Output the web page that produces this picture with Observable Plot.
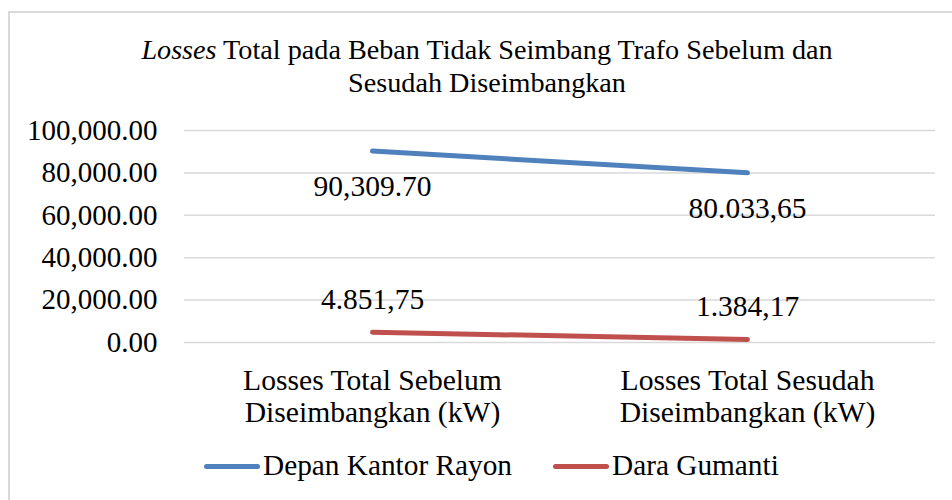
<!DOCTYPE html>
<html>
<head>
<meta charset="utf-8">
<script src="https://cdn.jsdelivr.net/npm/d3@7"></script>
<script src="https://cdn.jsdelivr.net/npm/@observablehq/plot@0.6"></script>
<style>
  html, body { margin: 0; padding: 0; background: #fff; }
  body { width: 952px; height: 500px; position: relative; overflow: hidden; color: #000; }
  .serif { font-family: 'Liberation Serif', 'Times New Roman', Times, serif; }
  #frame { position: absolute; left: 8px; top: 11px; width: 960px; height: 500px; border: 2px solid #d9d9d9; box-sizing: border-box; }
  #title { position: absolute; left: 0; width: 974px; top: 33px; text-align: center; font-size: 28.2px; line-height: 33px; }
  #chart { position: absolute; left: 0; top: 100px; }
  #legend { position: absolute; top: 448px; left: 0; width: 952px; font-size: 29.3px; line-height: 34px; }
  .item { position: absolute; top: 0; white-space: nowrap; }
  .sw { display: inline-block; width: 56px; height: 5px; border-radius: 3px; vertical-align: middle; margin-right: 3px; position: relative; top: -2px; }
  #chart text { font-family: 'Liberation Serif', 'Times New Roman', Times, serif; }
</style>
</head>
<body>
<div id="frame"></div>
<div id="title" class="serif"><i>Losses</i> Total pada Beban Tidak Seimbang Trafo Sebelum dan<br>Sesudah Diseimbangkan</div>
<div id="chart"></div>
<div id="legend" class="serif"></div>
<script>
const categories = ["Losses Total Sebelum\nDiseimbangkan (kW)", "Losses Total Sesudah\nDiseimbangkan (kW)"];
const seriesNames = ["Depan Kantor Rayon", "Dara Gumanti"];
const seriesColors = ["#4F81BD", "#C0504D"];
const depanKantorRayon = [90309.70, 80033.65];
const daraGumanti = [4851.75, 1384.17];
const depanLabels = ["90,309.70", "80.033,65"];
const daraLabels = ["4.851,75", "1.384,17"];
const yTicks = [0, 20000, 40000, 60000, 80000, 100000];

const data = [];
categories.forEach((c, i) => {
  data.push({cat: c, series: seriesNames[0], value: depanKantorRayon[i], label: depanLabels[i]});
  data.push({cat: c, series: seriesNames[1], value: daraGumanti[i], label: daraLabels[i]});
});
const blue = data.filter(d => d.series === seriesNames[0]);
const red = data.filter(d => d.series === seriesNames[1]);

const chart = Plot.plot({
  width: 952,
  height: 330,
  marginLeft: 184,
  marginRight: 17,
  marginTop: 30,
  marginBottom: 88,
  style: {fontFamily: "'Liberation Serif', 'Times New Roman', Times, serif", fontSize: "29px", color: "#000", background: "transparent", overflow: "visible"},
  x: {type: "point", domain: categories, padding: 0.5},
  y: {domain: [0, 100000]},
  color: {domain: seriesNames, range: seriesColors},
  marks: [
    Plot.ruleY(yTicks, {stroke: "#d9d9d9", strokeWidth: 1.5}),
    Plot.axisY({ticks: yTicks, tickSize: 0, tickPadding: 27, tickFormat: d3.format(",.2f"), label: null, fontSize: 29}),
    Plot.axisX({tickSize: 0, tickPadding: 24, label: null, fontSize: 29.6, lineHeight: 1.1}),
    Plot.line(data, {x: "cat", y: "value", z: "series", stroke: "series", strokeWidth: 5, strokeLinecap: "round"}),
    Plot.text(blue, {x: "cat", y: "value", text: "label", dy: 36, fontSize: 29.5, fill: "#000"}),
    Plot.text(red, {x: "cat", y: "value", text: "label", dy: -33, fontSize: 29.5, fill: "#000"})
  ]
});
document.getElementById("chart").appendChild(chart);

const legend = document.getElementById("legend");
const lx = [204, 553];
seriesNames.forEach((s, i) => {
  const it = document.createElement("div");
  it.className = "item";
  it.style.left = lx[i] + "px";
  it.innerHTML = `<span class="sw" style="background:${seriesColors[i]}"></span>${s}`;
  legend.appendChild(it);
});
</script>
</body>
</html>
